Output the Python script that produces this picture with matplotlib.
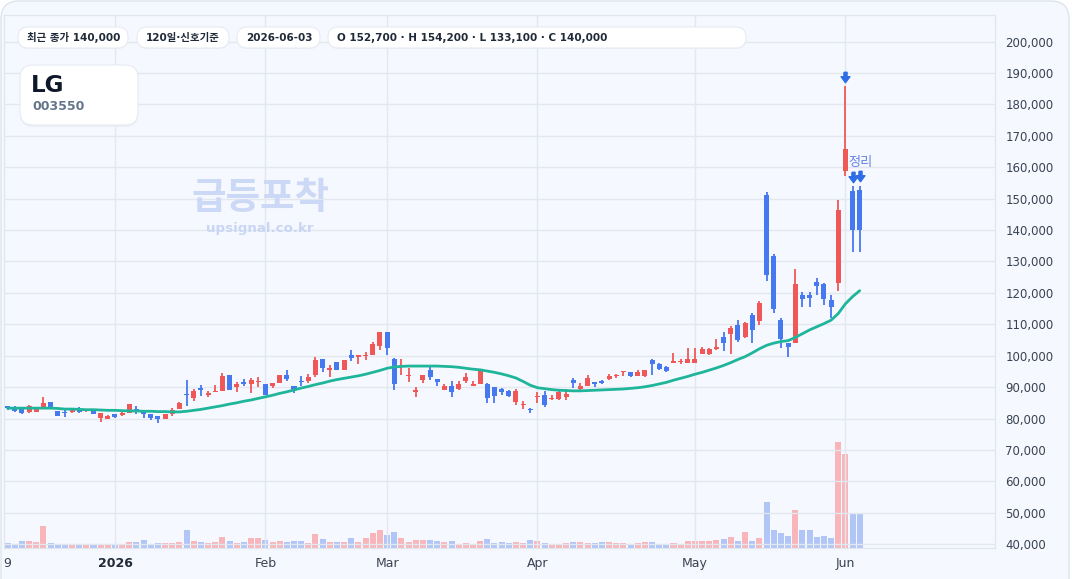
import numpy as np
import matplotlib
matplotlib.use('Agg')
import matplotlib.pyplot as plt
from matplotlib.patches import FancyBboxPatch
from matplotlib.path import Path
from matplotlib.transforms import IdentityTransform

plt.rcParams['font.family'] = ['DejaVu Sans', 'Noto Sans CJK KR']

# ---- data ----
opens = [83600, 83800, 83500, 82100, 82200, 83700, 85400, 82500, 82100, 82100,
         82800, 82400, 82700, 80100, 79900, 81300, 81000, 81700, 83100, 81800,
         81300, 80700, 80000, 81400, 83000, 87600, 86500, 89800, 87600, 88300,
         88700, 93700, 90000, 91700, 91100, 91600, 91100, 90200, 91200, 93700,
         90500, 92100, 92100, 93700, 99100, 95500, 98100, 95600, 100100, 99500,
         99800, 100100, 103000, 107700, 99100, 96600, 93500, 88400, 92400, 95600,
         92700, 89200, 90200, 89500, 91900, 90400, 91100, 91000, 89900, 89400,
         88900, 85400, 84200, 83000, 86800, 87400, 86100, 86300, 86800, 92300,
         89300, 90500, 91700, 92100, 92600, 93400, 94700, 94800, 93400, 93600,
         98600, 97400, 96500, 97800, 97900, 97800, 97800, 100500, 100500, 102100,
         106100, 106800, 109700, 105900, 113100, 111100, 151100, 131700, 111400, 104000,
         104100, 119200, 119200, 123400, 122800, 117700, 123200, 158800, 152500, 152700]

highs = [84100, 84100, 83600, 84400, 83800, 86700, 85400, 82500, 82800, 83100,
         83800, 82900, 82800, 81600, 81200, 81300, 82700, 84500, 83900, 82800,
         81500, 80700, 81300, 83400, 85100, 92400, 89500, 90600, 88600, 90800,
         94500, 93900, 91700, 92600, 93000, 93200, 91100, 91400, 93700, 95300,
         90500, 93400, 94200, 99600, 99100, 97000, 98100, 98500, 101800, 100300,
         101300, 104300, 107700, 107700, 99400, 98800, 96000, 90100, 94000, 96300,
         92700, 91100, 91800, 91800, 94400, 91900, 95800, 91200, 90100, 89600,
         89100, 89300, 85500, 83500, 88300, 88900, 87600, 89200, 89400, 92800,
         91300, 93900, 91700, 92300, 94200, 94200, 94800, 94900, 95400, 95500,
         99100, 97800, 96700, 101000, 98900, 102500, 102300, 102700, 102600, 105200,
         107600, 109400, 111500, 110800, 113600, 117300, 152200, 132300, 112100, 104000,
         127600, 120200, 120200, 124600, 123300, 119300, 149600, 185900, 154000, 154200]

lows = [82600, 82000, 81400, 81900, 82100, 83500, 83400, 80700, 80500, 81700,
        81700, 82000, 81400, 78800, 79800, 80100, 80800, 81700, 81400, 80300,
        79500, 78500, 80000, 80800, 82900, 84000, 85500, 87100, 86800, 88300,
        88700, 89100, 88400, 90300, 88200, 89900, 87600, 89700, 91200, 92000,
        88200, 90200, 91300, 93200, 94700, 93200, 95600, 95600, 98300, 97300,
        98600, 100100, 101700, 100100, 89000, 93700, 91600, 86800, 91300, 92300,
        90400, 89200, 86800, 89000, 91300, 90200, 90900, 85000, 85000, 87500,
        87000, 84300, 83000, 81600, 84800, 83800, 86000, 86000, 86000, 89700,
        88900, 90400, 90100, 91000, 92300, 93000, 93400, 93200, 93400, 93200,
        93900, 95500, 94900, 97600, 97300, 97800, 97800, 100500, 100200, 101700,
        101600, 100500, 104300, 105500, 104200, 109700, 123900, 113600, 102600, 99700,
        104100, 115600, 115600, 119300, 116200, 111900, 120700, 157200, 133000, 133100]

closes = [83400, 82300, 81700, 84000, 83400, 84800, 83500, 80700, 81600, 82800,
          82000, 82600, 81400, 81600, 80700, 80600, 81700, 84500, 82000, 81500,
          80100, 79800, 81300, 82800, 84900, 87400, 88800, 89000, 88200, 88600,
          93400, 89100, 91100, 91100, 92400, 91700, 87600, 91400, 93700, 92500,
          89500, 91500, 93200, 98500, 96000, 95700, 95600, 98500, 99200, 100100,
          100000, 103600, 107700, 102300, 91100, 96800, 94000, 89200, 94000, 93200,
          91600, 90200, 88400, 91100, 93300, 90600, 95500, 86600, 87300, 88500,
          87200, 88900, 84500, 82600, 87200, 84300, 86600, 88400, 87700, 91400,
          90400, 92800, 90900, 91200, 93600, 94000, 94800, 93400, 94800, 95500,
          97300, 95700, 95100, 98000, 98300, 98800, 98800, 102100, 102000, 102800,
          104200, 108800, 104900, 110300, 108300, 116800, 125700, 114900, 105200, 102900,
          122800, 118100, 118300, 122300, 118000, 115600, 146400, 165700, 139900, 140000]

# 20-day moving average (thousand won)
ma20 = [83.3, 83.3, 83.3, 83.3, 83.3, 83.3, 83.3,
        83.2, 83.0, 83.0, 82.9, 82.8, 82.8,
        82.7, 82.6, 82.6, 82.5, 82.4, 82.4, 82.3, 82.3,
        82.2, 82.2, 82.1, 82.1, 82.3, 82.6,
        82.9, 83.3, 83.7, 84.1, 84.6,
        85.0, 85.5, 85.9, 86.4, 86.9,
        87.4, 88.0, 88.5, 89.1, 89.7,
        90.2, 90.8, 91.3, 91.9, 92.4,
        92.8, 93.2, 93.6, 94.1, 94.7, 95.3, 96.0,
        96.4, 96.6, 96.7, 96.7, 96.7, 96.7, 96.7,
        96.6, 96.5, 96.3, 96.0, 95.7, 95.5,
        95.1, 94.7, 94.2, 93.6, 92.9, 91.8, 90.6,
        89.8, 89.5, 89.2, 89.0, 88.9, 88.8, 88.8,
        88.9, 89.0, 89.1, 89.2, 89.3, 89.4,
        89.6, 89.8, 90.1, 90.5, 91.0, 91.5, 92.2,
        92.8, 93.4, 94.1, 94.7, 95.4, 96.1,
        96.9, 97.8, 98.8, 99.7, 100.9,
        102.2, 103.3, 104.0, 104.5, 104.8, 105.8,
        107.0, 108.2, 109.2, 110.2, 111.3,
        113.4, 116.5, 118.8, 120.7]

# volume (thousand shares)
volume = [75, 60, 105, 105, 90, 330, 75, 60, 60, 60,
          45, 45, 45, 45, 60, 45, 60, 90, 90, 120,
          60, 75, 75, 75, 90, 270, 105, 90, 75, 90,
          165, 105, 75, 90, 150, 150, 120, 90, 105, 90,
          105, 105, 75, 210, 135, 90, 90, 90, 150, 90,
          150, 225, 270, 195, 240, 150, 90, 120, 120, 120,
          105, 90, 105, 60, 75, 60, 105, 135, 75, 90,
          75, 90, 75, 120, 105, 75, 60, 60, 75, 90,
          90, 75, 75, 90, 90, 75, 75, 45, 75, 90,
          90, 60, 60, 75, 55, 105, 105, 105, 105, 120,
          135, 165, 105, 240, 105, 150, 690, 270, 225, 180,
          570, 270, 270, 165, 180, 150, 1590, 1410, 525, 525]

tick_pos = [0, 15, 36, 53, 74, 96, 117]
tick_labels = ['9', '2026', 'Feb', 'Mar', 'Apr', 'May', 'Jun']
signal_idx = [117, 118, 119]

W, H = 1072, 579
fig = plt.figure(figsize=(W / 100, H / 100), dpi=100, facecolor='white')


def box(x0, y0, x1, y1, r, fc, ec, lw=0.8, z=5, alpha=1.0):
    # pixel box, top-left origin
    p = FancyBboxPatch((x0, H - y1), x1 - x0, y1 - y0,
                       boxstyle=f'round,pad=0,rounding_size={r}',
                       transform=IdentityTransform(), fc=fc, ec=ec, lw=lw,
                       zorder=z, alpha=alpha)
    fig.add_artist(p)


def ftext(x, y, s, **kw):
    return fig.text(x / W, 1 - y / H, s, **kw)


# card background
box(1, 1, 1069, 640, 18, '#f5f8fe', '#dde4ee', lw=1.0, z=-2)

ax = fig.add_axes([4 / W, 1 - 548 / H, (995 - 4) / W, (548 - 15) / H])
ax2 = ax.twinx()
ax.set_zorder(ax2.get_zorder() + 1)
ax.patch.set_visible(False)

x = np.arange(len(closes))
o = np.array(opens)
c = np.array(closes)
up = c >= o
red, blue = '#f05858', '#4678ef'
cols = np.where(up, red, blue)

# volume
vcols = np.where(up, '#f8b6ba', '#b1c5f6')
ax2.bar(x, volume, width=0.84, color=vcols, zorder=1)
ax2.set_ylim(0, max(volume) / 0.199)
ax2.set_yticks([])
for s in ax2.spines.values():
    s.set_visible(False)

# candles
ax.vlines(x, lows, highs, color=cols, lw=1.3, zorder=3)
body_h = np.maximum(np.abs(c - o), 450)
ax.bar(x, body_h, bottom=np.minimum(o, c), width=0.7, color=cols, zorder=4)

# moving average
ax.plot(x, np.array(ma20) * 1000, color='#1fb59b', lw=2.0, zorder=5,
        solid_capstyle='round')

# signal arrows
arrow = Path([(-0.3, 1), (0.3, 1), (0.3, 0.15), (0.85, 0.15), (0, -1),
              (-0.85, 0.15), (-0.3, 0.15), (-0.3, 1)])
hi = np.array(highs)
ax.plot(signal_idx, hi[signal_idx] + 2900, ls='none', marker=arrow,
        markersize=7.5, color='#2f6de6', zorder=6)
ax.text(119.1, hi[119] + 7200, '정리', ha='center', va='center', fontsize=9.5,
        color='#5577e0', alpha=0.9, family=['Noto Sans CJK KR'], zorder=6)

ax.set_xlim(-0.5, 137.9)
ax.set_ylim(38760, 208500)

yt = list(range(40000, 200001, 10000))
ax.set_yticks(yt)
ax.set_yticklabels([f'{v:,}' for v in yt])
ax.yaxis.tick_right()
ax.tick_params(axis='y', length=0, pad=7.5, labelsize=8.5, labelcolor='#3a4352')
ax.set_xticks(tick_pos)
ax.set_xticklabels(tick_labels)
ax.tick_params(axis='x', length=0, pad=6.5, labelsize=9, labelcolor='#3a4352')
ax.get_xticklabels()[1].set_fontweight('bold')
ax.get_xticklabels()[1].set_color('#1f2937')

ax.grid(axis='y', color='#e3e8ef', lw=1.0, zorder=0)
for p in tick_pos[1:]:
    ax.axvline(p, color='#e3e8ef', lw=1.0, zorder=0)
ax.set_axisbelow(True)
for s in ax.spines.values():
    s.set_color('#e0e6ee')
    s.set_linewidth(0.9)

# watermark
ftext(260, 198, '급등포착', fontsize=27, fontweight='bold', color='#ccd9f6',
      ha='center', va='center', family=['Noto Sans CJK KR'], zorder=2)
ftext(260, 229, 'upsignal.co.kr', fontsize=9.6, fontweight='bold',
      color='#c8d6f4', ha='center', va='center', zorder=2)

# header pills
pills = [(18, 128, '최근 종가 140,000'), (137, 229, '120일·신호기준'),
         (237, 320, '2026-06-03'),
         (328, 746, 'O 152,700 · H 154,200 · L 133,100 · C 140,000')]
for x0, x1, s in pills:
    box(x0, 28, x1, 49, 10, '#e9edf3', 'none', z=4, alpha=0.7)
    box(x0, 27, x1, 48, 10, 'white', '#e6ebf2', z=5)
    ftext(x0 + 9, 37.8, s, fontsize=7.5, fontweight='bold', color='#1f2937',
          ha='left', va='center', zorder=6)

# ticker card
box(20, 67, 138, 127, 13, '#e8edf4', 'none', z=4, alpha=0.7)
box(20, 65, 138, 125, 13, 'white', '#e6ebf2', z=5)
ftext(31, 86, 'LG', fontsize=16.5, fontweight='bold', color='#0f172a',
      ha='left', va='center', zorder=6)
ftext(32, 107, '003550', fontsize=9, fontweight='bold', color='#64748b',
      ha='left', va='center', zorder=6)

fig.savefig('out.png', dpi=100, facecolor=fig.get_facecolor())
